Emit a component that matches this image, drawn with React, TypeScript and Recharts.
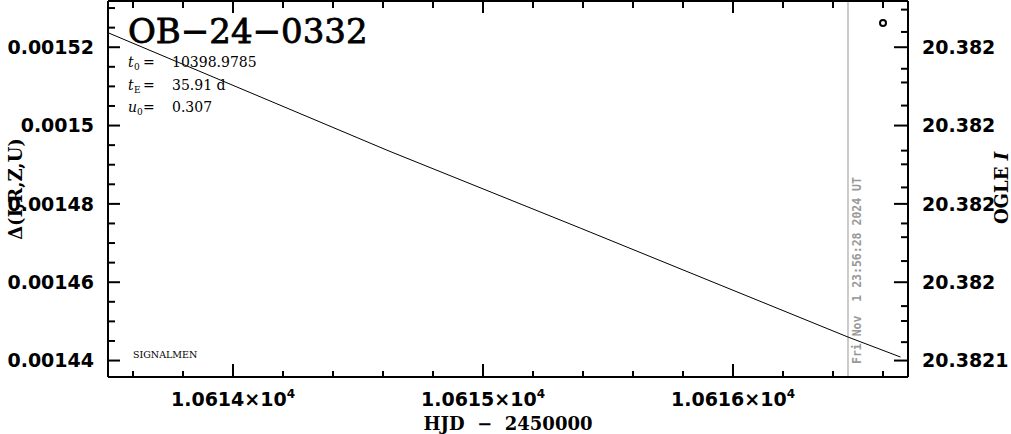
import React from "react";
import {
  ComposedChart,
  Line,
  XAxis,
  YAxis,
  ReferenceLine,
  ReferenceDot,
} from "recharts";

// ---- data ----
const hjd = [10613.5, 10614.62, 10615.39, 10616.46, 10616.67];
const delta = [0.0015237, 0.0014936, 0.0014738, 0.001446, 0.0014409];

const markerHjd = [10616.6];
const markerDelta = [0.0015262];

const nowLineHjd = 10616.46;
const nowLabel = "Fri Nov  1 23:56:28 2024 UT";

const xDomain = [10613.5, 10616.7];
const yDomain = [0.0014358, 0.0015318];

const xMajorTicks = [10614, 10615, 10616];
const xTickLabels = ["1.0614", "1.0615", "1.0616"];
const xMinorTicks = [
  10613.6, 10613.8, 10614.2, 10614.4, 10614.6, 10614.8, 10615.2, 10615.4,
  10615.6, 10615.8, 10616.2, 10616.4, 10616.6,
];

const yMajorTicks = [0.00152, 0.0015, 0.00148, 0.00146, 0.00144];
const yTickLabels = ["0.00152", "0.0015", "0.00148", "0.00146", "0.00144"];
const yMinorTicks = [
  0.00153, 0.001525, 0.001515, 0.00151, 0.001505, 0.001495, 0.00149,
  0.001485, 0.001475, 0.00147, 0.001465, 0.001455, 0.00145, 0.001445,
];

const magTickLabels = ["20.382", "20.382", "20.382", "20.382", "20.3821"];
const magMinorTicks = [
  0.0015296, 0.0015239, 0.0015145, 0.001511, 0.0015051, 0.0014936, 0.0014901,
  0.0014842, 0.001475, 0.0014715, 0.0014654, 0.0014539, 0.0014501, 0.0014447,
];

const title = "OB−24−0332";
const t0Text = "10398.9785";
const tEText = "35.91 d";
const u0Text = "0.307";

const rows = hjd.map((h, i) => ({ hjd: h, delta: delta[i] }));

const majorIndex = (v: number, list: number[]) =>
  list.findIndex((m) => Math.abs(m - v) < 1e-9);

const TICK_FONT = "'DejaVu Sans', sans-serif";
const SERIF = "'DejaVu Serif', serif";

function BottomTick(props: any) {
  const { x, y, payload } = props;
  const idx = majorIndex(payload.value, xMajorTicks);
  const major = idx >= 0;
  return (
    <g>
      <line x1={x} x2={x} y1={y} y2={y - (major ? 13 : 6)} stroke="#000" strokeWidth={2} />
      {major && (
        <text
          x={x}
          y={y + 29}
          textAnchor="middle"
          fontFamily={TICK_FONT}
          fontWeight="bold"
          fontSize={19}
          fill="#000"
        >
          {xTickLabels[idx]}×10
          <tspan fontSize={12} dy={-8}>4</tspan>
        </text>
      )}
    </g>
  );
}

function TopTick(props: any) {
  const { x, y, payload } = props;
  const major = majorIndex(payload.value, xMajorTicks) >= 0;
  return <line x1={x} x2={x} y1={y} y2={y + (major ? 12 : 7)} stroke="#000" strokeWidth={2} />;
}

function LeftTick(props: any) {
  const { x, y, payload } = props;
  const idx = majorIndex(payload.value, yMajorTicks);
  const major = idx >= 0;
  return (
    <g>
      <line x1={x} x2={x + (major ? 12 : 7)} y1={y} y2={y} stroke="#000" strokeWidth={2} />
      {major && (
        <text
          x={x - 14}
          y={y}
          dy="0.36em"
          textAnchor="end"
          fontFamily={TICK_FONT}
          fontWeight="bold"
          fontSize={19}
          fill="#000"
        >
          {yTickLabels[idx]}
        </text>
      )}
    </g>
  );
}

function RightTick(props: any) {
  const { x, y, payload } = props;
  const idx = majorIndex(payload.value, yMajorTicks);
  const major = idx >= 0;
  return (
    <g>
      <line x1={x} x2={x - (major ? 14 : 7)} y1={y} y2={y} stroke="#000" strokeWidth={2} />
      {major && (
        <text
          x={x + 14}
          y={y}
          dy="0.36em"
          textAnchor="start"
          fontFamily={TICK_FONT}
          fontWeight="bold"
          fontSize={19}
          fill="#000"
        >
          {magTickLabels[idx]}
        </text>
      )}
    </g>
  );
}

function DateLabel(props: any) {
  const vb = props.viewBox || {};
  const bx = (vb.x ?? 0) + 13;
  const by = (vb.y ?? 0) + (vb.height ?? 0) - 13;
  return (
    <text
      x={bx}
      y={by}
      transform={`rotate(-90 ${bx} ${by})`}
      fontFamily="'DejaVu Sans Mono', monospace"
      fontWeight="bold"
      fontSize={11.5}
      fill="#999"
      style={{ whiteSpace: "pre" }}
    >
      {nowLabel}
    </text>
  );
}

const axisLine = { stroke: "#000", strokeWidth: 2 };

export default function App() {
  return (
    <div style={{ position: "absolute", left: 0, top: 0, width: 1011, height: 434, background: "#fff" }}>
      <ComposedChart
        width={1011}
        height={434}
        data={rows}
        margin={{ top: 0, right: 0, bottom: 0, left: 0 }}
      >
        <XAxis
          xAxisId="b"
          type="number"
          dataKey="hjd"
          domain={xDomain}
          allowDataOverflow
          ticks={[...xMajorTicks, ...xMinorTicks]}
          interval={0}
          tick={<BottomTick />}
          tickLine={false}
          tickSize={0}
          tickMargin={0}
          axisLine={axisLine}
          height={57}
          orientation="bottom"
        />
        <XAxis
          xAxisId="t"
          type="number"
          dataKey="hjd"
          domain={xDomain}
          allowDataOverflow
          ticks={[...xMajorTicks, ...xMinorTicks]}
          interval={0}
          tick={<TopTick />}
          tickLine={false}
          tickSize={0}
          tickMargin={0}
          axisLine={axisLine}
          height={1}
          orientation="top"
        />
        <YAxis
          yAxisId="l"
          type="number"
          domain={yDomain}
          allowDataOverflow
          ticks={[...yMajorTicks, ...yMinorTicks]}
          interval={0}
          tick={<LeftTick />}
          tickLine={false}
          tickSize={0}
          tickMargin={0}
          axisLine={axisLine}
          width={108}
          orientation="left"
        />
        <YAxis
          yAxisId="r"
          type="number"
          domain={yDomain}
          allowDataOverflow
          ticks={[...yMajorTicks, ...magMinorTicks]}
          interval={0}
          tick={<RightTick />}
          tickLine={false}
          tickSize={0}
          tickMargin={0}
          axisLine={axisLine}
          width={103}
          orientation="right"
        />
        <ReferenceLine
          xAxisId="b"
          yAxisId="l"
          x={nowLineHjd}
          stroke="#999"
          strokeWidth={1}
          label={<DateLabel />}
        />
        <Line
          xAxisId="b"
          yAxisId="l"
          type="linear"
          dataKey="delta"
          stroke="#000"
          strokeWidth={1}
          dot={false}
          isAnimationActive={false}
        />
        <ReferenceDot
          xAxisId="b"
          yAxisId="l"
          x={markerHjd[0]}
          y={markerDelta[0]}
          r={3}
          fill="#fff"
          stroke="#000"
          strokeWidth={2}
        />
      </ComposedChart>
      <svg
        width={1011}
        height={434}
        style={{ position: "absolute", left: 0, top: 0, pointerEvents: "none" }}
      >
        <text x={128} y={43} fontFamily={SERIF} fontSize={34} fill="#000" stroke="#000" strokeWidth={0.8}>
          {title}
        </text>
        <g fontFamily={SERIF} fontSize={14} fill="#000">
          <text x={128} y={67} fontStyle="italic">t</text>
          <text x={134} y={70} fontSize={9}>0</text>
          <text x={143} y={67}>=</text>
          <text x={172} y={67}>{t0Text}</text>

          <text x={128} y={90} fontStyle="italic">t</text>
          <text x={134} y={93} fontSize={9}>E</text>
          <text x={143} y={90}>=</text>
          <text x={172} y={90} style={{ whiteSpace: "pre" }}>{tEText}</text>

          <text x={128} y={112} fontStyle="italic">u</text>
          <text x={137} y={115} fontSize={9}>0</text>
          <text x={143} y={112}>=</text>
          <text x={172} y={112}>{u0Text}</text>
        </g>
        <text x={133} y={358} fontFamily={SERIF} fontSize={9.5} fill="#000">
          SIGNALMEN
        </text>
        <text
          x={508}
          y={430}
          textAnchor="middle"
          fontFamily={SERIF}
          fontWeight="bold"
          fontSize={18}
          fill="#000"
          style={{ whiteSpace: "pre" }}
        >
          {"HJD  −  2450000"}
        </text>
        <text
          x={0}
          y={0}
          transform="translate(22 189) rotate(-90)"
          textAnchor="middle"
          fontFamily={SERIF}
          fontWeight="bold"
          fontSize={18}
          fill="#000"
        >
          Δ(I,R,Z,U)
        </text>
        <text
          x={0}
          y={0}
          transform="translate(1008 188) rotate(-90)"
          textAnchor="middle"
          fontFamily={SERIF}
          fontWeight="bold"
          fontSize={18}
          fill="#000"
          style={{ whiteSpace: "pre" }}
        >
          {"OGLE "}
          <tspan fontStyle="italic">I</tspan>
        </text>
      </svg>
    </div>
  );
}
